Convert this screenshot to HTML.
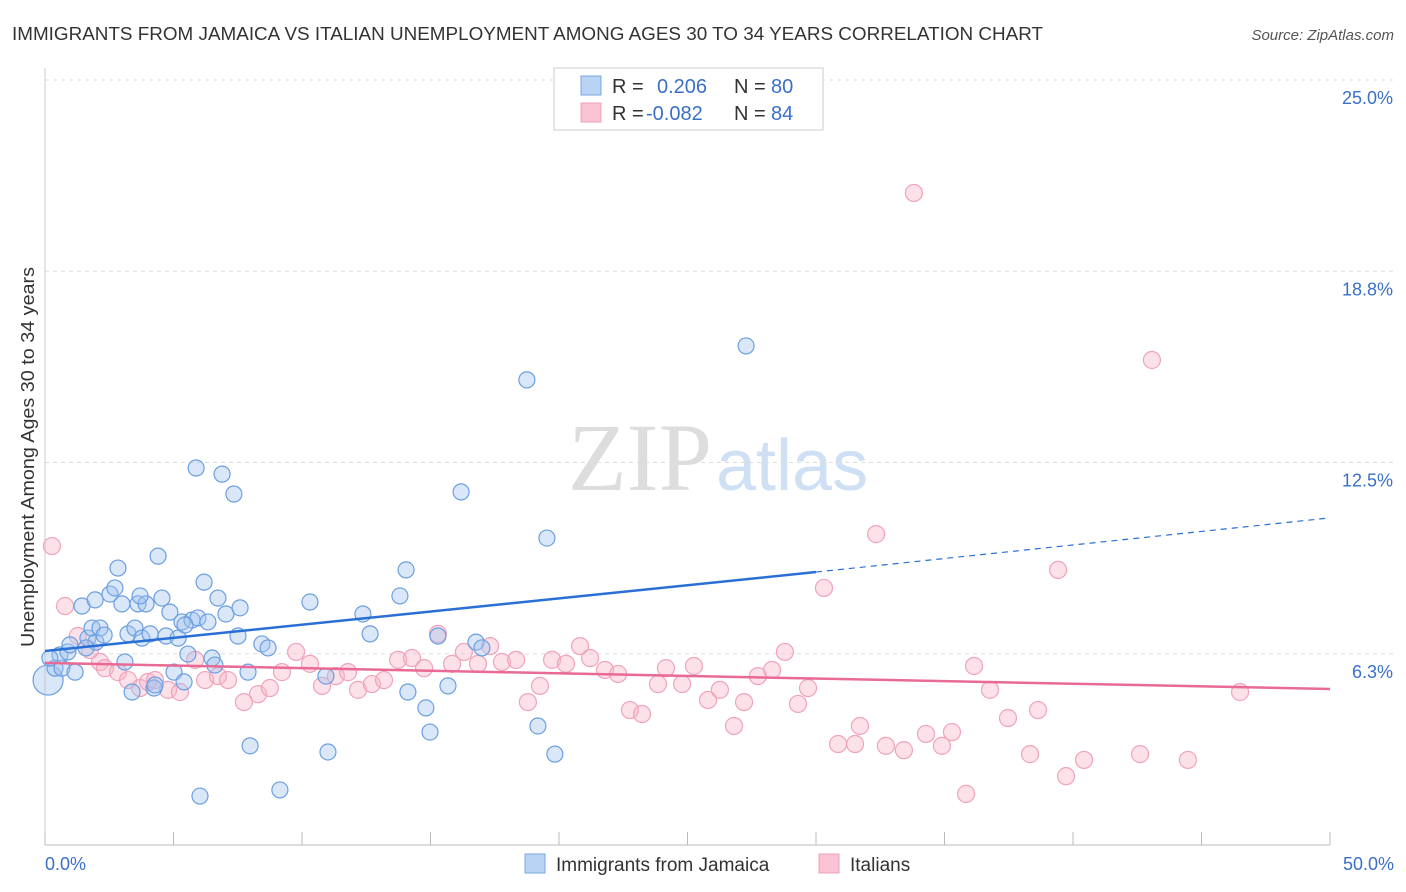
<!DOCTYPE html>
<html><head><meta charset="utf-8"><style>
body{margin:0;background:#fff;font-family:"Liberation Sans",sans-serif;}
svg{display:block}
</style></head><body>
<svg id="chart" width="1406" height="892">
<text x="12" y="40" font-size="18" fill="#333" textLength="1031" lengthAdjust="spacingAndGlyphs">IMMIGRANTS FROM JAMAICA VS ITALIAN UNEMPLOYMENT AMONG AGES 30 TO 34 YEARS CORRELATION CHART</text>
<text x="1394" y="40" font-size="15" fill="#555" font-style="italic" text-anchor="end">Source: ZipAtlas.com</text>
<text x="712" y="490" font-size="96" font-family="Liberation Serif" fill="#ddd" text-anchor="end">ZIP</text>
<text x="716" y="490" font-size="72" fill="#cfe0f4">atlas</text>
<text transform="translate(34,457) rotate(-90)" font-size="18" fill="#333" text-anchor="middle" textLength="380" lengthAdjust="spacingAndGlyphs">Unemployment Among Ages 30 to 34 years</text>
<g id="grid"></g><g id="pts"></g><g id="trend"></g>
<g>
<rect x="554" y="68" width="269" height="62" fill="#fff" stroke="#ccc"/>
<rect x="581" y="76" width="20" height="19" fill="#b8d3f4" stroke="#7aa7e0"/>
<rect x="581" y="103" width="20" height="19" fill="#f9c3d3" stroke="#f0a0b8"/>
<text x="612" y="93" font-size="20" fill="#333">R =</text>
<text x="657" y="93" font-size="20" fill="#3a70c8">0.206</text>
<text x="734" y="93" font-size="20" fill="#333">N =</text>
<text x="771" y="93" font-size="20" fill="#3a70c8">80</text>
<text x="612" y="120" font-size="20" fill="#333">R =</text>
<text x="646" y="120" font-size="20" fill="#3a70c8">-0.082</text>
<text x="734" y="120" font-size="20" fill="#333">N =</text>
<text x="771" y="120" font-size="20" fill="#3a70c8">84</text>
</g>
<g>
<rect x="525" y="854" width="20" height="19" fill="#b8d3f4" stroke="#7aa7e0"/>
<text x="556" y="871" font-size="19" fill="#333">Immigrants from Jamaica</text>
<rect x="819" y="854" width="20" height="19" fill="#f9c3d3" stroke="#f0a0b8"/>
<text x="850" y="871" font-size="19" fill="#333">Italians</text>
</g>
</svg>
<script>
const yTicks=[6.25,12.5,18.75,25];
const yTickLabels=["6.3%","12.5%","18.8%","25.0%"];
const xTickLabels=["0.0%","50.0%"];
const blueX=[0.12,0.39,0.66,0.58,0.89,1.17,1.44,1.67,1.83,1.98,2.14,2.30,2.53,2.72,2.84,2.99,3.11,3.23,3.39,3.50,3.62,3.77,3.93,4.09,4.24,4.40,4.55,4.71,4.86,5.02,5.18,5.33,5.41,5.56,5.72,5.88,5.95,6.03,6.19,6.34,6.50,6.73,6.89,7.04,7.35,7.51,7.59,7.90,7.98,8.44,8.68,9.14,10.31,10.93,11.01,12.37,12.65,13.81,14.05,14.12,14.82,14.98,15.29,15.68,16.19,16.77,17.00,18.75,19.18,19.53,19.84,27.28,0.19,0.97,1.60,3.70,4.28,5.45,6.61,1.95];
const blueY=[5.39,5.78,5.78,6.21,6.31,5.65,7.81,6.76,7.09,6.63,7.09,6.86,8.20,8.40,9.05,7.88,5.98,6.90,5.00,7.09,7.88,6.76,7.88,6.90,5.13,9.44,8.07,6.83,7.61,5.65,6.76,7.29,5.33,6.24,7.35,12.32,7.42,1.60,8.59,7.29,6.11,8.07,12.12,7.55,11.47,6.83,7.75,5.65,3.24,6.57,6.44,1.80,7.94,5.52,3.04,7.55,6.90,8.14,8.99,5.00,4.48,3.69,6.83,5.20,11.54,6.63,6.44,15.20,3.89,10.03,2.97,16.31,6.11,6.54,6.44,8.14,5.23,7.19,5.88,8.01];
const pinkX=[0.27,0.78,1.28,1.75,2.14,2.33,2.84,3.23,3.70,4.01,4.28,4.79,5.25,5.84,6.23,6.73,7.12,7.74,8.29,8.75,9.22,9.77,10.31,10.78,11.32,11.79,12.18,12.72,13.19,13.74,14.28,14.75,15.29,15.84,16.30,16.85,17.32,17.78,18.33,18.79,19.26,19.73,20.27,20.82,21.21,21.79,22.30,22.76,23.23,23.85,24.16,24.79,25.25,25.80,26.26,26.81,27.20,27.74,28.29,28.79,29.30,29.69,30.31,30.86,31.52,31.71,32.34,32.72,33.42,33.81,34.28,34.90,35.29,35.84,36.15,36.77,37.47,38.33,38.64,39.42,39.73,40.43,42.61,43.07,44.47,46.50];
const pinkY=[9.77,7.81,6.83,6.37,5.98,5.78,5.65,5.39,5.13,5.33,5.39,5.07,5.00,6.05,5.39,5.52,5.39,4.67,4.93,5.13,5.65,6.31,5.92,5.20,5.52,5.65,5.07,5.26,5.39,6.05,6.11,5.78,6.90,5.92,6.31,5.92,6.50,5.98,6.05,4.67,5.20,6.05,5.92,6.50,6.11,5.72,5.59,4.41,4.28,5.26,5.78,5.26,5.85,4.74,5.07,3.89,4.67,5.52,5.72,6.31,4.61,5.13,8.40,3.30,3.30,3.89,10.16,3.24,3.10,21.31,3.63,3.24,3.69,1.67,5.85,5.07,4.15,2.97,4.41,8.99,2.25,2.78,2.97,15.85,2.78,5.00];
const blueTrendX=[0,30,50], blueTrendY=[6.34,8.92,10.69];
const pinkTrendX=[0,50], pinkTrendY=[5.95,5.10];

const X=v=>45+v/50*1285, Y=v=>845-v/25*765;
const NS="http://www.w3.org/2000/svg";
function mk(t,a,p){const e=document.createElementNS(NS,t);for(const k in a)e.setAttribute(k,a[k]);p.appendChild(e);return e;}
const grid=document.getElementById('grid');
yTicks.forEach((t,i)=>{
 const l=mk('line',{x1:45,x2:1394,y1:Y(t),y2:Y(t),stroke:'#ddd','stroke-dasharray':'4,4'},grid);
 
 
 const tx=mk('text',{x:1393,y:Y(t)+24,'font-size':18,fill:'#3a70c8','text-anchor':'end'},grid);
 tx.textContent=yTickLabels[i];
 
 
});
const ax=mk('line',{x1:45,x2:1330,y1:845,y2:845,stroke:'#bbb'},grid);


const ay=mk('line',{x1:45,x2:45,y1:68,y2:845,stroke:'#ccc'},grid);


for(let i=0;i<=10;i++){
 const t=mk('line',{x1:X(i*5),x2:X(i*5),y1:832,y2:845,stroke:'#bbb'},grid);
 
 
}
[[0,'start',45],[50,'end',1394]].forEach((d,i)=>{
 const tx=mk('text',{x:d[2],y:870,'font-size':18,fill:'#3a70c8','text-anchor':d[1]},grid);
 tx.textContent=xTickLabels[i];
 
 
});
const pts=document.getElementById('pts');
pinkX.forEach((v,i)=>{
 const c=mk('circle',{cx:X(v),cy:Y(pinkY[i]),r:8.5,fill:'rgba(248,180,200,0.4)',stroke:'#f0a3bb','stroke-width':1.2},pts);
 
 
});
blueX.forEach((v,i)=>{
 const c=mk('circle',{cx:X(v),cy:Y(blueY[i]),r:i===0?15:8,fill:'rgba(160,196,240,0.4)',stroke:'#6b9fe0','stroke-width':1.2},pts);
 
 
});
const tr=document.getElementById('trend');
const b1=mk('line',{x1:X(blueTrendX[0]),y1:Y(blueTrendY[0]),x2:X(blueTrendX[1]),y2:Y(blueTrendY[1]),stroke:'#2a6fd6','stroke-width':2.5},tr);


const b2=mk('line',{x1:X(blueTrendX[1]),y1:Y(blueTrendY[1]),x2:X(blueTrendX[2]),y2:Y(blueTrendY[2]),stroke:'#2a6fd6','stroke-width':1.2,'stroke-dasharray':'6,5'},tr);


const p1=mk('line',{x1:X(pinkTrendX[0]),y1:Y(pinkTrendY[0]),x2:X(pinkTrendX[1]),y2:Y(pinkTrendY[1]),stroke:'#e86a95','stroke-width':2.5},tr);


</script>
</body></html>
